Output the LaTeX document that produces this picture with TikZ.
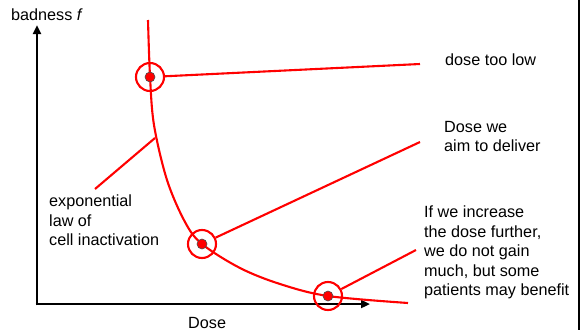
\documentclass[tikz,border=0pt]{standalone}
\usepackage{fontspec}
\setmainfont{Liberation Sans}
\usetikzlibrary{arrows.meta}
\begin{document}
\begin{tikzpicture}[x=1pt,y=-1pt,
  axis/.style={line width=2.8pt,-{Triangle[length=9pt,width=8pt]}},
  curve/.style={red,line width=2.1pt},
  pointer/.style={red,line width=2.1pt},
  ring/.style={circle,draw=red,line width=2.1pt,minimum size=28pt,inner sep=0pt},
  dot/.style={circle,fill=red,draw=black!70,line width=0.6pt,minimum size=10pt,inner sep=0pt},
  label/.style={font=\fontsize{16.2}{19.4}\selectfont,inner sep=0pt,align=left}]
  \useasboundingbox (0,0) rectangle (582,330);

  % axes
  \coordinate (origin) at (37,304);
  \coordinate (ytip) at (37,25);
  \coordinate (xtip) at (370,304);
  \draw[axis] (origin) ++(0,1.4) -- (ytip);
  \draw[axis] (origin) ++(-1.4,0) -- (xtip);
  \node[label,anchor=base west] (ylab) at (11,20) {badness \textit{f}};
  \node[label,anchor=base west] (xlab) at (188,328) {Dose};

  % frame edge on the right
  \draw[line width=2pt] (579,0) -- (579,330);

  % survival curve
  \draw[curve] plot[smooth,tension=0.55] coordinates
    {(148,20) (150,76) (154,125) (167,180) (185,222) (202,244)
     (240,268) (280,284) (328,296) (408,303)};

  % marked points
  \node[ring] (r1) at (150,77) {};
  \node[ring] (r2) at (202,244) {};
  \node[ring] (r3) at (328,296) {};
  \node[dot] (d1) at (r1) {};
  \node[dot] (d2) at (r2) {};
  \node[dot] (d3) at (r3) {};

  % pointers
  \coordinate (e1) at (420,64);
  \coordinate (e2) at (420,142);
  \coordinate (e3) at (416,250);
  \coordinate (c0) at (155,138);
  \coordinate (e0) at (95,189);
  \draw[pointer] (r1) -- (e1);
  \draw[pointer] (r2) -- (e2);
  \draw[pointer] (r3) -- (e3);
  \draw[pointer] (c0) -- (e0);

  % annotations
  \node[label,anchor=base west] (t1) at (445,65) {dose too low};
  \node[label,anchor=north west] (t2) at (444,121) {Dose we\\aim to deliver};
  \node[label,anchor=north west] (t3) at (424,206) {If we increase\\the dose further,\\we do not gain\\much, but some\\patients may benefit};
  \node[label,anchor=north west] (t0) at (49,195) {exponential\\law of\\cell inactivation};
\end{tikzpicture}
\end{document}
